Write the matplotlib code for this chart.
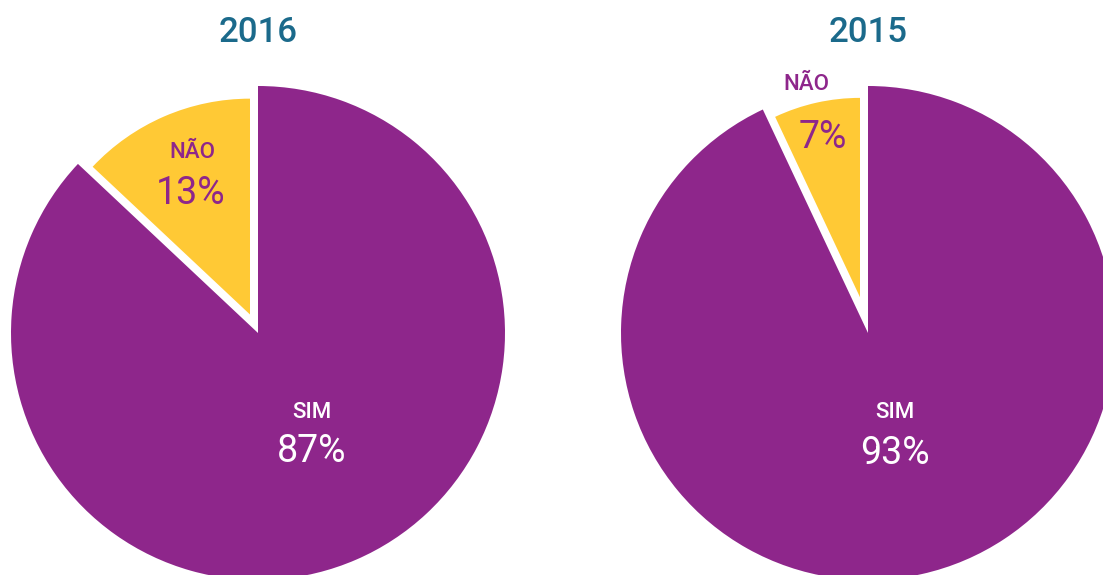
import matplotlib
matplotlib.use("Agg")
import matplotlib.pyplot as plt
import numpy as np

plt.rcParams['font.family'] = ['Roboto', 'DejaVu Sans']

# dados
anos = ["2016", "2015"]
categorias = ["SIM", "NÃO"]
valores_2016 = [87, 13]
valores_2015 = [93, 7]
valores = [valores_2016, valores_2015]

roxo = "#8E268B"
amarelo = "#FFC935"
azul = "#1B6A8B"

W, H = 1103, 575
fig = plt.figure(figsize=(W / 100, H / 100), dpi=100)
ax = fig.add_axes([0, 0, 1, 1])

centros_x = [258, 868]
cy = H - 333
raio = 247
vao = 8  # espaco branco entre as fatias, em pixels

# posicoes dos rotulos (pixels, y de cima)
pos_sim = [(312, 412, 451), (895, 412, 453)]
pos_nao = [(192, 152, 191, 193), (806, 85, 823, 138)]

for i in range(2):
    cx = centros_x[i]
    meio_ang = np.radians(360 * valores[i][1] / sum(valores[i]) / 2)
    d = vao / np.sin(meio_ang)
    # explode aqui vai em unidades de dados (pixels)
    fatias, _ = ax.pie(valores[i], colors=[roxo, amarelo], startangle=90,
                       counterclock=False, center=(cx, cy), radius=raio,
                       explode=[0, d], wedgeprops=dict(linewidth=0))
    # fatia amarela deslocada e menor
    fatias[1].set_radius(raio - 11 - d)

    ax.text(cx, H - 33, anos[i], ha="center", va="center", fontsize=25,
            fontweight="medium", color=azul)

    x, y1, y2 = pos_sim[i]
    ax.text(x, H - y1, categorias[0], ha="center", va="center", fontsize=16,
            fontweight="medium", color="white", zorder=5)
    ax.text(x, H - y2, f"{valores[i][0]}%", ha="center", va="center", fontsize=27,
            color="white", zorder=5)

    x1, y1, x2, y2 = pos_nao[i]
    ax.text(x1, H - y1, categorias[1], ha="center", va="center", fontsize=16,
            fontweight="medium", color=roxo, zorder=5)
    ax.text(x2, H - y2, f"{valores[i][1]}%", ha="center", va="center",
            fontsize=27, color=roxo, zorder=5)

ax.set_xlim(0, W)
ax.set_ylim(0, H)
ax.set_aspect("auto")
ax.axis("off")

fig.savefig("out.png", dpi=100, facecolor="white")
